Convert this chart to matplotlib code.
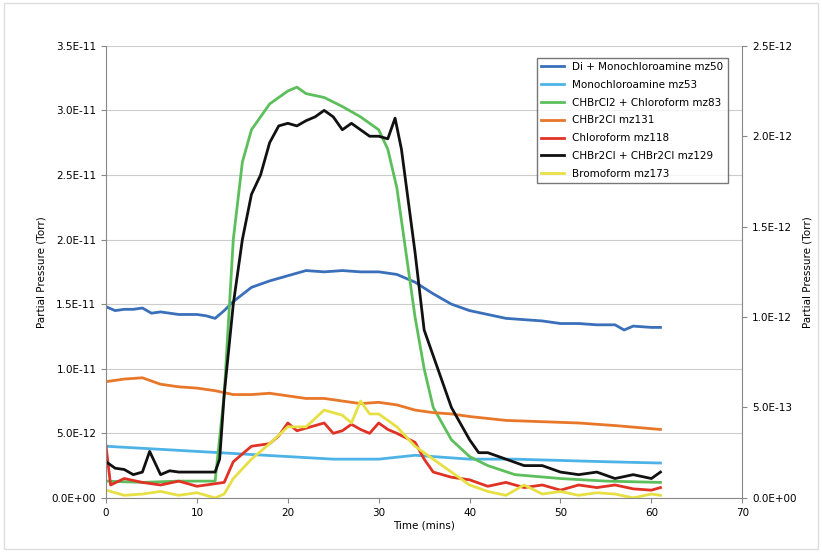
import matplotlib
matplotlib.use("Agg")
import matplotlib.pyplot as plt
from matplotlib.ticker import FuncFormatter, MultipleLocator

S = 1e-12
blue_t = [0,1,2,3,4,5,6,8,10,11,12,13,14,16,18,20,22,24,26,28,30,32,34,36,38,40,42,44,46,48,50,52,54,56,57,58,60,61]
blue_v = [14.8,14.5,14.6,14.6,14.7,14.3,14.4,14.2,14.2,14.1,13.9,14.5,15.2,16.3,16.8,17.2,17.6,17.5,17.6,17.5,17.5,17.3,16.7,15.8,15.0,14.5,14.2,13.9,13.8,13.7,13.5,13.5,13.4,13.4,13.0,13.3,13.2,13.2]
lblue_t = [0,5,10,15,20,25,30,34,40,45,50,55,61]
lblue_v = [4.0,3.8,3.6,3.4,3.2,3.0,3.0,3.3,3.0,3.0,2.9,2.8,2.7]
green_t = [0,4,8,12,13,14,15,16,18,20,21,22,24,26,28,30,31,32,33,34,35,36,38,40,42,45,50,55,61]
green_v = [1.3,1.2,1.3,1.3,8,20,26,28.5,30.5,31.5,31.8,31.3,31.0,30.3,29.5,28.5,27,24,19,14,10,7,4.5,3.2,2.5,1.8,1.5,1.3,1.2]
black_t = [0,1,2,3,4,4.8,6,7,8,10,12,12.5,13,14,15,16,17,18,19,20,21,22,23,24,25,26,27,28,29,30,31,31.8,32.5,34,35,36,38,40,41,42,44,46,48,50,52,54,56,58,60,61]
black_v = [2.8,2.3,2.2,1.8,2.0,3.6,1.8,2.1,2.0,2.0,2.0,3,8,15,20,23.5,25,27.5,28.8,29.0,28.8,29.2,29.5,30.0,29.5,28.5,29,28.5,28,28,27.8,29.4,27,19,13,11,7,4.5,3.5,3.5,3.0,2.5,2.5,2.0,1.8,2.0,1.5,1.8,1.5,2.0]
orange_t = [0,2,4,6,8,10,12,14,16,18,20,22,24,26,28,30,32,34,36,38,40,44,48,52,56,61]
orange_v = [9.0,9.2,9.3,8.8,8.6,8.5,8.3,8.0,8.0,8.1,7.9,7.7,7.7,7.5,7.3,7.4,7.2,6.8,6.6,6.5,6.3,6.0,5.9,5.8,5.6,5.3]
red_t = [0,0.5,2,4,6,8,10,12,13,14,16,18,19,20,21,22,24,25,26,27,28,29,30,31,32,34,35,36,38,40,42,44,46,48,50,52,54,56,58,60,61]
red_v = [4.0,1.0,1.5,1.2,1.0,1.3,0.9,1.1,1.2,2.8,4.0,4.2,4.8,5.8,5.2,5.4,5.8,5.0,5.2,5.7,5.3,5.0,5.8,5.3,5.0,4.3,3.0,2.0,1.6,1.4,0.9,1.2,0.8,1.0,0.6,1.0,0.8,1.0,0.7,0.6,0.8]
yellow_t = [0,2,4,6,8,10,12,13,14,16,18,20,22,24,26,27,28,29,30,32,34,36,38,40,42,44,46,48,50,52,54,56,58,60,61]
yellow_v = [0.6,0.2,0.3,0.5,0.2,0.4,0.0,0.3,1.5,3.0,4.2,5.5,5.5,6.8,6.4,5.8,7.5,6.5,6.5,5.5,4.0,3.0,2.0,1.0,0.5,0.2,1.0,0.3,0.5,0.2,0.4,0.3,0.0,0.3,0.2]

series = [
    ("Di + Monochloroamine mz50", blue_t, blue_v, "#3a6fba"),
    ("Monochloroamine mz53", lblue_t, lblue_v, "#4db3e6"),
    ("CHBrCl2 + Chloroform mz83", green_t, green_v, "#5cbf5c"),
    ("CHBr2Cl mz131", orange_t, orange_v, "#e8772a"),
    ("Chloroform mz118", red_t, red_v, "#e03225"),
    ("CHBr2Cl + CHBr2Cl mz129", black_t, black_v, "#111111"),
    ("Bromoform mz173", yellow_t, yellow_v, "#e6e045"),
]

fig = plt.figure(figsize=(8.22, 5.52), dpi=100)
fig.patches.append(plt.Rectangle((0.005,0.005),0.99,0.99,transform=fig.transFigure,fill=False,edgecolor="#dddddd"))
ax = fig.add_axes([0.129, 0.098, 0.774, 0.819])
for lab, t, v, c in series:
    ax.plot(t, [x*S for x in v], color=c, lw=2, label=lab)
ax.set_xlim(0, 70)
ax.set_ylim(0, 3.5e-11)
ax.xaxis.set_major_locator(MultipleLocator(10))
ax.yaxis.set_major_locator(MultipleLocator(5e-12))
fmt = FuncFormatter(lambda v, p: f"{v:.1E}")
ax.yaxis.set_major_formatter(fmt)
ax.grid(axis="y", color="#cccccc", lw=0.8)
for s in ["top", "right"]:
    ax.spines[s].set_visible(False)
ax.spines["left"].set_color("#888888")
ax.spines["bottom"].set_color("#888888")
ax.tick_params(labelsize=7.5, color="#888888")
ax.set_xlabel("Time (mins)", fontsize=7.5, labelpad=2)
ax.set_ylabel("Partial Pressure (Torr)", fontsize=7.5)
ax2 = ax.twinx()
ax2.set_ylim(0, 3.5e-11/14)
ax2.yaxis.set_major_locator(MultipleLocator(5e-13))
ax2.set_ylim(0, 2.5e-12)
ax2.yaxis.set_major_formatter(fmt)
for s in ["top", "left", "bottom"]:
    ax2.spines[s].set_visible(False)
ax2.spines["right"].set_color("#888888")
ax2.tick_params(labelsize=7.5, color="#888888")
ax2.set_ylabel("Partial Pressure (Torr)", fontsize=7.5)
leg = ax.legend(loc="upper right", bbox_to_anchor=(0.985, 0.985), fontsize=7.5, frameon=True,
                fancybox=False, edgecolor="#555555", labelspacing=0.75, handlelength=2.2)
leg.get_frame().set_linewidth(1)
fig.savefig("out.png", dpi=100)
